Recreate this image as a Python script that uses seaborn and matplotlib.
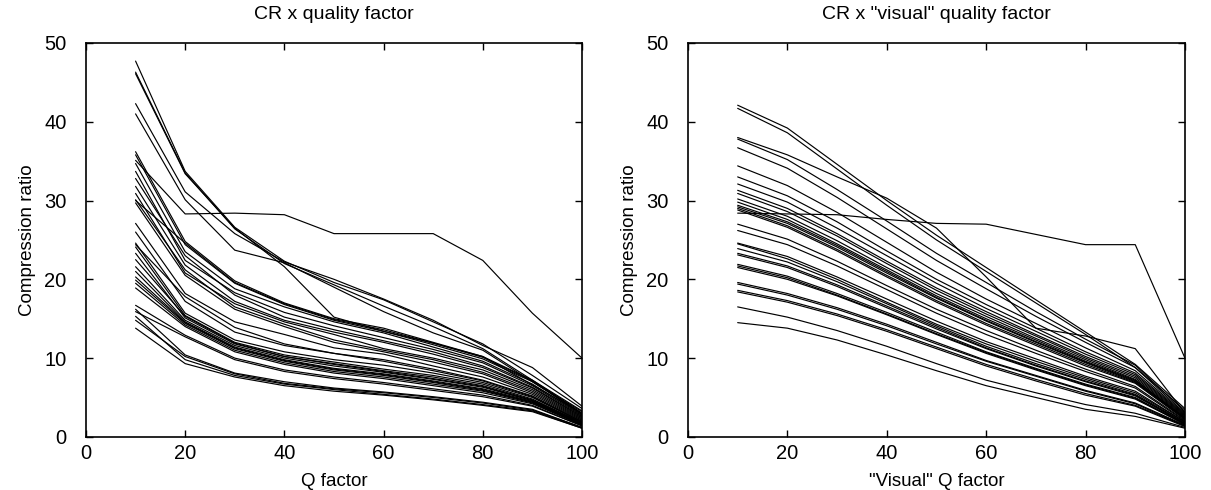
import matplotlib
matplotlib.use("Agg")
import matplotlib.pyplot as plt
import seaborn as sns
import pandas as pd

q_factor = [10, 20, 30, 40, 50, 60, 70, 80, 90, 100]

cr_quality = [
    [47.7, 33.7, 26.6, 22.3, 19.6, 17.4, 14.6, 11.8, 7.8, 3.6],
    [46.3, 33.5, 26.4, 22.0, 19.3, 16.6, 14.0, 11.2, 7.2, 3.3],
    [46.1, 33.4, 26.5, 21.6, 15.2, 13.4, 11.9, 10.2, 6.6, 3.0],
    [42.3, 31.1, 25.8, 22.2, 20.0, 17.5, 14.8, 11.6, 8.8, 3.9],
    [41.0, 30.1, 23.7, 22.1, 19.0, 15.9, 13.2, 11.0, 7.0, 3.2],
    [35.1, 28.3, 28.4, 28.2, 25.8, 25.8, 25.8, 22.4, 15.7, 10.0],
    [36.2, 24.8, 19.8, 17.0, 15.0, 13.8, 12.0, 10.2, 7.2, 3.0],
    [35.8, 24.4, 19.5, 16.8, 14.8, 13.4, 11.7, 9.9, 7.0, 2.9],
    [34.7, 23.5, 18.8, 16.5, 14.6, 13.2, 11.4, 9.6, 6.7, 2.8],
    [33.7, 22.4, 18.3, 15.8, 14.1, 12.6, 11.1, 9.4, 6.5, 2.7],
    [32.8, 23.0, 18.0, 15.2, 13.6, 12.2, 10.8, 9.0, 6.3, 2.6],
    [31.8, 21.8, 17.2, 14.8, 13.3, 12.0, 10.5, 8.8, 6.2, 2.5],
    [30.9, 20.8, 16.9, 14.6, 13.0, 11.2, 10.0, 8.5, 6.0, 2.4],
    [30.1, 21.2, 16.5, 14.3, 12.3, 11.0, 9.8, 8.2, 5.8, 2.3],
    [29.7, 20.5, 16.2, 14.0, 12.0, 10.8, 9.5, 8.0, 5.6, 2.2],
    [27.1, 18.2, 14.6, 13.0, 11.3, 10.5, 9.0, 7.6, 5.4, 2.1],
    [26.0, 17.2, 13.3, 11.6, 10.6, 9.8, 8.6, 7.2, 5.2, 2.0],
    [24.6, 15.7, 12.3, 10.8, 9.8, 9.1, 8.1, 6.9, 5.0, 1.9],
    [24.1, 15.4, 12.0, 10.4, 9.5, 8.6, 7.8, 6.7, 4.8, 1.8],
    [23.3, 15.1, 11.8, 10.2, 9.3, 8.4, 7.6, 6.5, 4.7, 1.8],
    [21.6, 14.8, 11.6, 10.0, 9.0, 8.2, 7.3, 6.3, 4.6, 1.7],
    [21.0, 14.6, 11.4, 9.8, 8.7, 8.0, 7.1, 6.1, 4.5, 1.6],
    [19.9, 14.4, 11.2, 9.6, 8.5, 7.8, 6.9, 5.9, 4.4, 1.6],
    [19.5, 14.2, 11.0, 9.4, 8.3, 7.6, 6.7, 5.8, 4.3, 1.5],
    [18.9, 14.0, 10.8, 9.2, 8.1, 7.4, 6.5, 5.6, 4.2, 1.5],
    [16.7, 12.9, 10.0, 8.5, 7.6, 6.9, 6.1, 5.3, 4.0, 1.4],
    [15.9, 12.7, 9.8, 8.3, 7.4, 6.7, 5.9, 5.1, 3.9, 1.4],
    [14.8, 10.2, 8.0, 6.8, 6.1, 5.6, 5.0, 4.3, 3.4, 1.2],
    [13.8, 9.3, 7.6, 6.5, 5.8, 5.3, 4.7, 4.0, 3.2, 1.1],
    [30.0, 24.6, 19.6, 16.9, 14.9, 13.6, 11.9, 10.1, 7.1, 2.9],
    [24.4, 17.8, 13.9, 11.8, 10.6, 9.6, 8.4, 7.1, 5.1, 1.9],
    [22.5, 15.3, 11.9, 10.2, 9.2, 8.3, 7.4, 6.4, 4.6, 1.7],
    [20.3, 14.5, 11.3, 9.7, 8.6, 7.9, 7.0, 6.0, 4.4, 1.6],
    [16.2, 10.4, 8.1, 7.0, 6.2, 5.7, 5.1, 4.4, 3.5, 1.2],
    [15.3, 9.8, 7.8, 6.7, 6.0, 5.4, 4.8, 4.1, 3.3, 1.1],
]

cr_visual = [
    [42.1, 39.2, 34.6, 30.0, 25.6, 21.5, 17.4, 13.3, 9.2, 3.6],
    [41.7, 38.6, 34.0, 29.4, 25.0, 21.0, 17.0, 13.0, 8.8, 3.4],
    [38.0, 35.8, 33.0, 30.3, 26.5, 20.3, 13.8, 12.8, 11.2, 3.0],
    [37.8, 35.2, 31.4, 27.4, 23.3, 19.6, 15.9, 12.4, 9.1, 3.2],
    [36.7, 34.1, 30.4, 26.4, 22.4, 18.8, 15.3, 12.0, 8.8, 3.0],
    [34.4, 31.9, 28.5, 24.7, 20.9, 17.5, 14.4, 11.3, 8.4, 2.9],
    [33.0, 30.6, 27.3, 23.6, 20.0, 16.8, 13.8, 10.8, 8.1, 2.8],
    [32.1, 29.8, 26.5, 23.0, 19.5, 16.3, 13.4, 10.5, 7.9, 2.7],
    [31.3, 29.0, 25.8, 22.3, 18.9, 15.9, 13.0, 10.2, 7.7, 2.6],
    [30.9, 28.6, 25.5, 22.0, 18.6, 15.6, 12.8, 10.0, 7.5, 2.5],
    [30.2, 28.0, 24.9, 21.5, 18.2, 15.3, 12.5, 9.8, 7.3, 2.4],
    [29.8, 27.6, 24.5, 21.2, 17.9, 15.0, 12.3, 9.6, 7.2, 2.4],
    [29.2, 27.1, 24.1, 20.8, 17.6, 14.7, 12.0, 9.4, 7.0, 2.3],
    [29.0, 26.8, 23.8, 20.5, 17.3, 14.4, 11.8, 9.2, 6.9, 2.3],
    [28.4, 28.3, 28.2, 27.6, 27.1, 27.0, 25.7, 24.4, 24.4, 10.0],
    [27.0, 25.1, 22.3, 19.2, 16.2, 13.5, 11.0, 8.6, 6.4, 2.1],
    [26.2, 24.4, 21.7, 18.7, 15.7, 13.0, 10.6, 8.3, 6.2, 2.0],
    [24.6, 22.9, 20.3, 17.5, 14.7, 12.1, 9.9, 7.7, 5.8, 1.9],
    [24.5, 22.6, 20.0, 17.1, 14.3, 11.8, 9.6, 7.5, 5.6, 1.9],
    [23.9, 22.2, 19.7, 16.9, 14.1, 11.5, 9.3, 7.3, 5.4, 1.8],
    [23.1, 21.5, 19.1, 16.4, 13.7, 11.2, 9.0, 7.0, 5.2, 1.7],
    [21.9, 20.4, 18.2, 15.8, 13.3, 10.8, 8.7, 6.7, 5.0, 1.6],
    [21.5, 20.0, 17.9, 15.5, 13.0, 10.6, 8.5, 6.5, 4.8, 1.6],
    [19.6, 18.2, 16.4, 14.3, 12.0, 9.7, 7.8, 5.9, 4.3, 1.5],
    [19.4, 18.0, 16.2, 14.1, 11.8, 9.6, 7.7, 5.8, 4.2, 1.4],
    [18.6, 17.3, 15.6, 13.6, 11.4, 9.2, 7.3, 5.5, 4.0, 1.4],
    [18.4, 17.1, 15.4, 13.4, 11.2, 9.0, 7.1, 5.3, 3.9, 1.3],
    [16.5, 15.2, 13.5, 11.5, 9.3, 7.2, 5.6, 4.1, 3.0, 1.2],
    [14.5, 13.8, 12.3, 10.4, 8.4, 6.5, 5.0, 3.5, 2.6, 1.1],
    [29.4, 27.3, 24.3, 21.0, 17.7, 14.8, 12.1, 9.5, 7.1, 2.3],
    [28.8, 26.6, 23.6, 20.3, 17.1, 14.2, 11.6, 9.0, 6.8, 2.2],
    [23.3, 21.7, 19.3, 16.6, 13.9, 11.3, 9.1, 7.1, 5.3, 1.7],
    [21.7, 20.2, 18.0, 15.6, 13.1, 10.7, 8.6, 6.6, 4.9, 1.6],
]

titles = ["CR x quality factor", 'CR x "visual" quality factor']
xlabels = ["Q factor", '"Visual" Q factor']
ylabel = "Compression ratio"
xticks = [0, 20, 40, 60, 80, 100]
yticks = [0, 10, 20, 30, 40, 50]


def to_long(series):
    rows = []
    for i, vals in enumerate(series):
        for q, v in zip(q_factor, vals):
            rows.append({"line": i, "q": q, "cr": v})
    return pd.DataFrame(rows)


sns.set_theme(style="white")
plt.rcParams["font.family"] = ["Liberation Sans", "DejaVu Sans"]

fig = plt.figure(figsize=(12.11, 4.90), dpi=100)
positions = [[0.0710, 0.1084, 0.4096, 0.8039], [0.5681, 0.1084, 0.4104, 0.8039]]

for pos, series, title, xl in zip(positions, [cr_quality, cr_visual], titles, xlabels):
    ax = fig.add_axes(pos)
    df = to_long(series)
    sns.lineplot(data=df, x="q", y="cr", units="line", estimator=None,
                 color="black", linewidth=0.85, ax=ax, legend=False)
    ax.set_xlim(0, 100)
    ax.set_ylim(0, 50)
    ax.set_xticks(xticks)
    ax.set_yticks(yticks)
    ax.set_title(title, fontsize=14, pad=17, color="black")
    ax.tick_params(direction="in", length=5, width=1, top=True, right=True,
                   bottom=True, left=True, labelsize=14.5, colors="black")
    ax.tick_params(axis="x", pad=5)
    ax.tick_params(axis="y", pad=14)
    ax.set_xlabel(xl, fontsize=13.5, labelpad=7, color="black")
    ax.set_ylabel(ylabel, fontsize=13.5, labelpad=6, color="black")
    for s in ax.spines.values():
        s.set_visible(True)
        s.set_color("black")
        s.set_linewidth(1.2)

fig.savefig("out.png", dpi=100, facecolor="white")
